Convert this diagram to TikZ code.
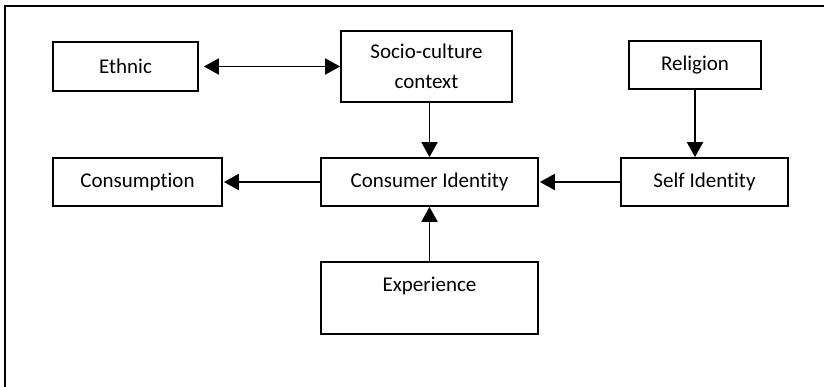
\documentclass[tikz,border=0pt]{standalone}
\usepackage{fontspec}
\setmainfont[Ligatures=NoCommon]{Carlito}
\usetikzlibrary{arrows.meta}
\begin{document}
\begin{tikzpicture}[x=1pt,y=-1pt,
  box/.style={draw, line width=1.7pt, rectangle, inner sep=0pt,
              font=\fontsize{21}{30}\selectfont, align=center},
  arr/.style={line width=1.9pt, -{Triangle[length=15pt,width=16pt]}},
  biarr/.style={line width=1.9pt, {Triangle[length=15pt,width=16pt]}-{Triangle[length=15pt,width=16pt]}},
]
\useasboundingbox (0,0) rectangle (824,386);
\draw[line width=2pt] (5,390) -- (5,6) -- (830,6);
\node[box, minimum width=145pt, minimum height=49pt] (eth) at (125.5,66.5) {Ethnic};
\node[box, minimum width=171pt, minimum height=71pt] (soc) at (426.5,66.5) {Socio-culture\\context};
\node[box, minimum width=132pt, minimum height=48pt] (rel) at (695,65) {Religion};
\node[box, minimum width=169pt, minimum height=48pt] (csm) at (137.5,182) {Consumption};
\node[box, minimum width=217pt, minimum height=48pt] (cid) at (429.5,182) {Consumer Identity};
\node[box, minimum width=167pt, minimum height=48pt] (sid) at (704.5,182) {Self Identity};
\node[box, minimum width=217pt, minimum height=72pt, text depth=27pt] (exp) at (429.5,298) {Experience};
\draw[biarr, shorten <=5pt] (eth.east) -- (soc.west);
\draw[arr] (cid.north |- soc.south) -- (cid.north);
\draw[arr] (rel.south) -- (rel.south |- sid.north);
\draw[arr, shorten >=1pt] (sid.west) -- (cid.east);
\draw[arr, shorten >=1pt] (cid.west) -- (csm.east);
\draw[arr] (exp.north) -- (cid.south);
\end{tikzpicture}
\end{document}
